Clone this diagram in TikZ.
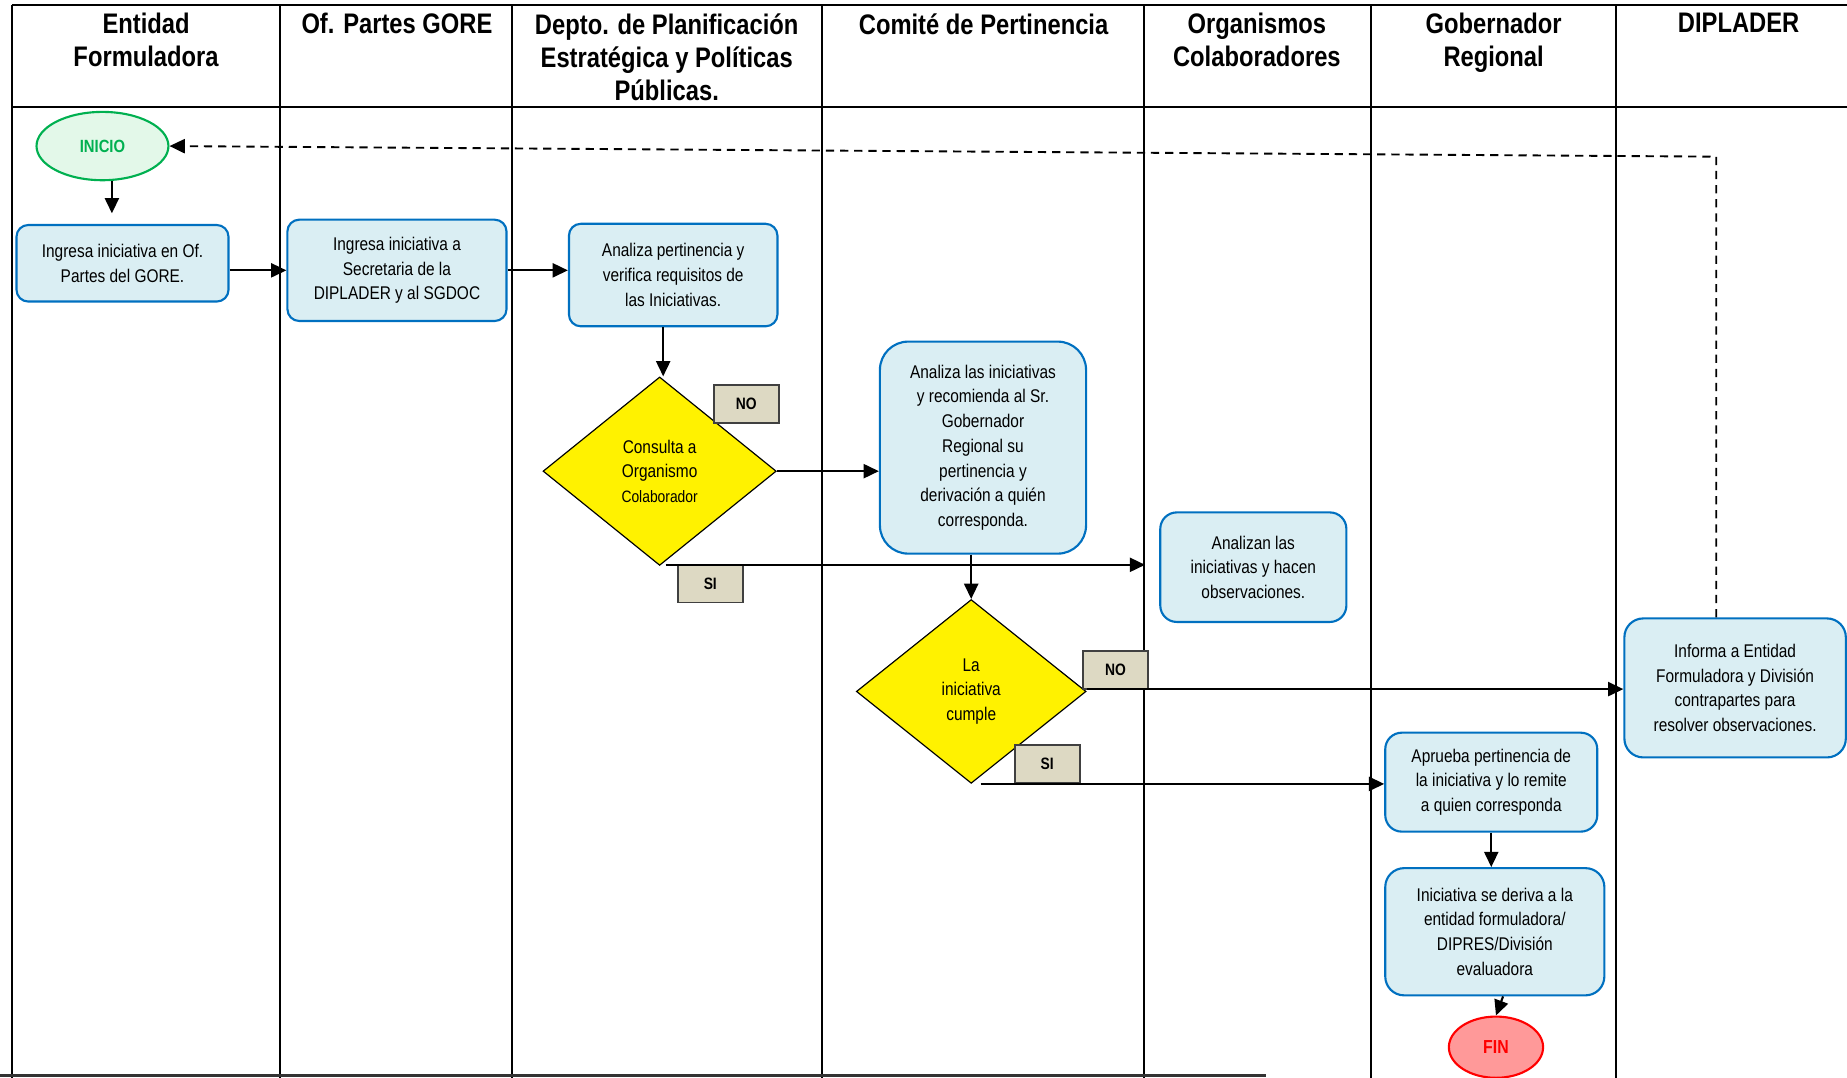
\documentclass[tikz,border=0pt]{standalone}
\usepackage{fontspec}
\setmainfont{Liberation Sans}[FakeStretch=0.84]
\usetikzlibrary{shapes.geometric,arrows.meta}
\definecolor{boxfill}{HTML}{DAEEF3}
\definecolor{boxdraw}{HTML}{0070C0}
\definecolor{tagfill}{HTML}{DDD9C3}
\definecolor{tagdraw}{HTML}{404040}
\definecolor{startfill}{HTML}{E3F8E9}
\definecolor{startdraw}{HTML}{00B050}
\definecolor{endfill}{HTML}{FF9999}
\definecolor{enddraw}{HTML}{FF0000}
\newcommand\bxfont{\fontsize{7.8}{10.5}\selectfont}
\tikzset{
 lane/.style={line width=0.9pt},
 procbox/.style={draw=boxdraw, fill=boxfill, line width=0.9pt, rounded corners=5pt, align=center, inner sep=0pt, font=\bxfont},
 decbox/.style={diamond, draw=black, line width=0.5pt, fill=yellow, inner sep=0pt, align=center, font=\bxfont},
 tagbox/.style={draw=tagdraw, fill=tagfill, line width=0.8pt, inner sep=0pt, minimum width=27.5pt, minimum height=16pt, font=\bfseries\fontsize{7}{8}\selectfont},
 arr/.style={-{Triangle[length=6.5pt,width=6pt]}, line width=0.9pt},
 hdr/.style={anchor=north, align=center, inner sep=0pt, font=\bfseries\fontsize{12}{14}\selectfont},
}
\begin{document}
\begin{tikzpicture}[x=0.5pt,y=-0.5pt]
\useasboundingbox (0,0) rectangle (1568,915);
% lanes
\draw[lane] (10,4) -- (1568,4);
\draw[lane] (10,91) -- (1568,91);
\foreach \xx in {10,238,435,698,971,1164,1372} {\draw[lane] (\xx,4) -- (\xx,915);}
\draw[line width=1.6pt, draw=black!80] (0,913) -- (1075,913);
% headers
\node[hdr] (h1) at (124,11) {Entidad\\Formuladora};
\node[hdr] (h2) at (337,11) {Of. Partes GORE};
\node[hdr] (h3) at (566,11) {Depto. de Planificación\\Estratégica y Políticas\\Públicas.};
\node[hdr] (h4) at (835,11) {Comité de Pertinencia};
\node[hdr] (h5) at (1067,11) {Organismos\\Colaboradores};
\node[hdr] (h6) at (1268,11) {Gobernador\\Regional};
\node[hdr] (h7) at (1476,11) {DIPLADER};
% nodes
\node[ellipse, draw=startdraw, fill=startfill, line width=0.9pt, minimum width=56pt, minimum height=29pt, inner sep=0pt, text=startdraw, font=\bfseries\fontsize{7.5}{9}\selectfont] (inicio) at (87,124) {INICIO};
\node[procbox, minimum width=90pt, minimum height=32.5pt] (box1) at (104,223.5) {Ingresa iniciativa en Of.\\Partes del GORE.};
\node[procbox, minimum width=93pt, minimum height=43pt] (box2) at (337,229.5) {Ingresa iniciativa a\\Secretaria de la\\DIPLADER y al SGDOC};
\node[procbox, minimum width=88.5pt, minimum height=43.5pt] (box3) at (571.5,233.5) {Analiza pertinencia y\\verifica requisitos de\\las Iniciativas.};
\node[decbox, minimum width=99pt, minimum height=80pt] (d1) at (560,400) {Consulta a\\Organismo\\{\fontsize{7}{9}\selectfont Colaborador}};
\node[tagbox] (no1) at (633.5,343) {NO};
\node[procbox, rounded corners=12pt, minimum width=87.5pt, minimum height=90pt] (box4) at (834.5,380) {Analiza las iniciativas\\y recomienda al Sr.\\Gobernador\\Regional su\\pertinencia y\\derivación a quién\\corresponda.};
\node[tagbox] (si1) at (603,495.5) {SI};
\node[procbox, rounded corners=7pt, minimum width=79pt, minimum height=46.5pt] (box5) at (1064,481.5) {Analizan las\\iniciativas y hacen\\observaciones.};
\node[decbox, minimum width=97.5pt, minimum height=78pt] (d2) at (824.5,587) {La\\iniciativa\\cumple};
\node[tagbox] (no2) at (947,569) {NO};
\node[tagbox] (si2) at (889,648.5) {SI};
\node[procbox, rounded corners=8pt, minimum width=94pt, minimum height=59pt] (box6) at (1473,584) {Informa a Entidad\\Formuladora y División\\contrapartes para\\resolver observaciones.};
\node[procbox, rounded corners=7pt, minimum width=90pt, minimum height=42pt] (box7) at (1266,664) {Aprueba pertinencia de\\la iniciativa y lo remite\\a quien corresponda};
\node[procbox, rounded corners=8pt, minimum width=93pt, minimum height=54pt] (box8) at (1269,791) {Iniciativa se deriva a la\\entidad formuladora/\\DIPRES/División\\evaluadora};
\node[ellipse, draw=enddraw, fill=endfill, line width=0.9pt, minimum width=40pt, minimum height=26pt, inner sep=0pt, text=enddraw, font=\bfseries\fontsize{8}{9}\selectfont] (fin) at (1270,889) {FIN};
\coordinate (dc) at (1457,133);
% connectors
\draw[arr, shorten >=4.5pt] ([xshift=4pt]inicio.south) -- ([xshift=4pt]inicio.south |- box1.north);
\draw[arr] (box1.east |- box2.west) -- (box2.west);
\draw[arr] (box2.east) -- (box2.east -| box3.west);
\draw[arr] ([xshift=1.5pt]d1.north |- box3.south) -- ([xshift=1.5pt]d1.north);
\draw[arr] (d1.east) -- (d1.east -| box4.west);
\draw[arr, shorten >=6pt] ([xshift=2.5pt,yshift=0.5pt]d1.south) -- ([yshift=0.5pt]d1.south -| box5.west);
\draw[arr] (d2.north |- box4.south) -- (d2.north);
\draw[arr] ([yshift=1pt]d2.east) -- ([yshift=1pt]d2.east -| box6.west);
\draw[arr] ([xshift=4pt]d2.south) -- (d2.south -| box7.west);
\draw[arr] (box7.south) -- (box7.south |- box8.north);
\draw[arr] ([xshift=3.5pt]box8.south) -- (fin.north);
\draw[arr, dashed, dash pattern=on 3.5pt off 2.5pt, line width=0.8pt] ([xshift=-8pt]box6.north) -- (dc) -- (inicio.east);
\end{tikzpicture}
\end{document}
